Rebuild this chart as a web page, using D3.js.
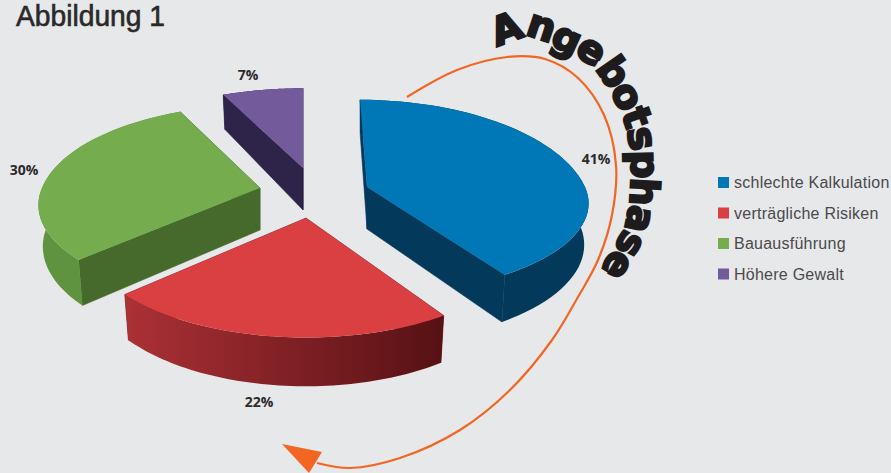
<!DOCTYPE html>
<html>
<head>
<meta charset="utf-8">
<script src="https://cdn.jsdelivr.net/npm/d3@7/dist/d3.min.js"></script>
<style>
  html, body { margin: 0; padding: 0; background: #e6e8e9; }
  svg { display: block; }
</style>
</head>
<body>
<svg id="chart" width="891" height="473"></svg>
<script>
// Chart content
const categories = ["schlechte Kalkulation", "verträgliche Risiken", "Bauausführung", "Höhere Gewalt"];
const shares = [41, 22, 30, 7];
const shareLabels = ["41%", "22%", "30%", "7%"];
const titleText = "Abbildung 1";
const phaseText = "Angebotsphase";

// Colours per slice
const topColors = ["#0077b6", "#da3f42", "#74ac4e", "#735a9b"];
const wallColors = ["#03395a", "#7c1d20", "#466a2c", "#2e2348"];
const rimColors = ["#03395a", "url(#redRim)", "#60933f", "#2e2348"];

// Exploded slice tips, the lean of the far edge, and per-slice depth scaling
const tips = [[367, 187], [306, 218], [260, 188], [303, 168]];
const leans = [0.08, 0, 0, 0];
const farScale = [1.05, 1, 1, 0.96];
const nearScale = [0.9, 1, 0.94, 1];
const labelSpots = [[596, 164], [259, 407], [24, 175], [248, 80]];

// Perspective disc: the near rim is larger than the far rim
const radiusX = 218, radiusY = 98, perspective = 0.18, thickness = 40, taper = 0.98;

const svg = d3.select("#chart");

const defs = svg.append("defs");
const redGrad = defs.append("linearGradient").attr("id", "redRim");
redGrad.append("stop").attr("offset", "0%").attr("stop-color", "#ab3136");
redGrad.append("stop").attr("offset", "55%").attr("stop-color", "#7d1f23");
redGrad.append("stop").attr("offset", "100%").attr("stop-color", "#561114");

const pie = d3.pie().sort(null).startAngle(0).endAngle(2 * Math.PI);
const arcs = pie(shares);
const line = d3.line();

// Offset of a rim point from its slice tip
function rimOffset(a, i) {
  const k = 1 / (1 + perspective * Math.cos(a));
  const x = radiusX * Math.sin(a) * k;
  let y = -radiusY * Math.cos(a) * k;
  y *= y < 0 ? farScale[i] : nearScale[i];
  return [x + leans[i] * Math.min(0, y), y, k];
}
const topPoint = (a, i) => {
  const [x, y] = rimOffset(a, i);
  return [tips[i][0] + x, tips[i][1] + y];
};
const bottomPoint = (a, i) => {
  const [x, y, k] = rimOffset(a, i);
  return [tips[i][0] + x * taper, tips[i][1] + y + thickness * k];
};
const tipBottom = i => [tips[i][0], tips[i][1] + thickness * 1.05];

const rimAngles = d => d3.range(0, 61).map(t => d.startAngle + (d.endAngle - d.startAngle) * t / 60);

const slices = svg.append("g").selectAll("g").data(arcs).join("g");

slices.each(function (d, i) {
  const g = d3.select(this);
  // Cut faces along the two radii
  [d.startAngle, d.endAngle].forEach(a => {
    g.append("path")
      .attr("d", line([tips[i], topPoint(a, i), bottomPoint(a, i), tipBottom(i)]) + "Z")
      .attr("fill", wallColors[i])
      .attr("stroke", wallColors[i])
      .attr("stroke-width", 0.6);
  });
  // Outer rim
  const angles = rimAngles(d);
  g.append("path")
    .attr("d", line(angles.map(a => topPoint(a, i)).concat(angles.slice().reverse().map(a => bottomPoint(a, i)))) + "Z")
    .attr("fill", rimColors[i]);
  // Top face
  g.append("path")
    .attr("d", line([tips[i]].concat(angles.map(a => topPoint(a, i)))) + "Z")
    .attr("fill", topColors[i]);
});

// Percentage labels
svg.append("g").selectAll("text").data(shareLabels).join("text")
  .attr("x", (d, i) => labelSpots[i][0])
  .attr("y", (d, i) => labelSpots[i][1])
  .attr("text-anchor", "middle")
  .attr("font-family", "'Open Sans', sans-serif")
  .attr("font-weight", 700)
  .attr("font-size", 14)
  .attr("fill", "#2b2a2c")
  .text(d => d);

// Title
svg.append("text")
  .attr("x", 16).attr("y", 26)
  .attr("font-family", "'Liberation Sans', sans-serif")
  .attr("font-size", 29)
  .attr("textLength", 149)
  .attr("lengthAdjust", "spacingAndGlyphs")
  .attr("fill", "#2a2829")
  .attr("stroke", "#2a2829")
  .attr("stroke-width", 0.6)
  .text(titleText);

// Legend
const legend = svg.append("g").selectAll("g").data(categories).join("g")
  .attr("transform", (d, i) => `translate(718,${177 + i * 30.5})`);
legend.append("rect").attr("width", 11).attr("height", 11).attr("fill", (d, i) => topColors[i]);
legend.append("text")
  .attr("x", 16).attr("y", 11)
  .attr("font-family", "'Liberation Sans', sans-serif")
  .attr("font-size", 16)
  .attr("letter-spacing", 0.25)
  .attr("fill", "#4a4a4c")
  .text(d => d);

// Phase arrow
const arrowLine = d3.line().curve(d3.curveCatmullRom.alpha(0.5));
svg.append("path")
  .attr("d", arrowLine([[407, 97], [457, 70], [507, 57], [545, 59], [578, 78], [604, 115], [616, 165], [612, 215], [598, 260], [578, 297], [552, 340], [510, 390], [460, 430], [400, 458], [350, 468], [317, 463]]))
  .attr("fill", "none")
  .attr("stroke", "#f26522")
  .attr("stroke-width", 2.2);
svg.append("path")
  .attr("d", line([[282, 444], [322, 452], [309, 473]]) + "Z")
  .attr("fill", "#f26522");

// Phase caption running along the arrow
defs.append("path").attr("id", "phaseBaseline")
  .attr("d", arrowLine([[497, 47], [530, 37], [560, 50], [590, 65], [612, 95], [628, 135], [631, 180], [625, 225], [605, 262], [590, 285]]));
svg.append("text")
  .attr("font-family", "'DejaVu Sans', sans-serif")
  .attr("font-weight", 700)
  .attr("font-size", 39)
  .attr("letter-spacing", -1.4)
  .attr("fill", "#1d1b1c")
  .attr("stroke", "#1d1b1c")
  .attr("stroke-width", 2.4)
  .append("textPath")
  .attr("href", "#phaseBaseline")
  .text(phaseText);
</script>
</body>
</html>
